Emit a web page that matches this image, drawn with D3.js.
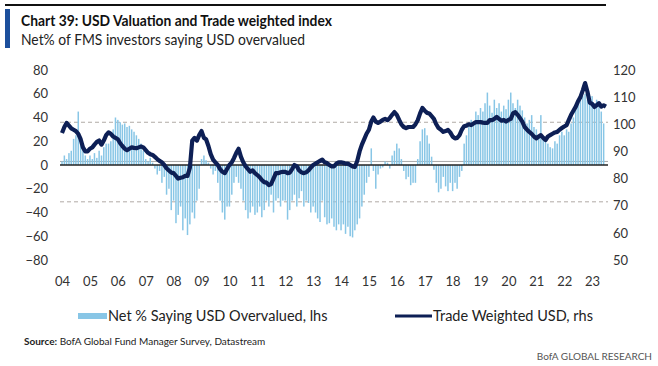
<!DOCTYPE html>
<html><head><meta charset="utf-8">
<script src="https://cdn.jsdelivr.net/npm/d3@7"></script>
<style>
body{margin:0;background:#fff;}
svg{display:block;font-family:Lato,"Open Sans",sans-serif;}
</style></head>
<body><svg id="c" width="658" height="366"></svg>
<script>
const years = ["04","05","06","07","08","09","10","11","12","13","14","15","16","17","18","19","20","21","22","23"];
const leftTicks = [80,60,40,20,0,-20,-40,-60,-80];
const rightTicks = [120,110,100,90,80,70,60,50];

// Net % saying USD overvalued (monthly, Jan 2004 onward), lhs
const netOvervalued = [
  3, 8, 5, 10, 12, 22, 25, 45, 20, 15, 8, 5,          // 2004
  8, 5, 10, 6, 12, 8, 15, 18, 18, 20, 30, 40,         // 2005
  38, 36, 34, 35, 32, 33, 30, 28, 25, 22, 18, 12,     // 2006
  5, 3, 6, 2, -3, -8, -5, -15, -10, -25, -20, -38,    // 2007
  -30, -49, -42, -35, -55, -45, -59, -50, -40, -45, -30, -20, // 2008
  5, 8, 4, 2, -3, -8, -5, -15, -30, -40, -46, -35,    // 2009
  -35, -25, -15, -10, -15, -20, -30, -38, -45, -40, -35, -42, // 2010
  -40, -35, -44, -38, -30, -35, -25, -40, -30, -28, -35, -30, // 2011
  -30, -46, -38, -30, -25, -35, -28, -22, -35, -30, -32, -40, // 2012
  -35, -40, -45, -48, -30, -44, -50, -49, -45, -52, -55, -50, // 2013
  -55, -50, -58, -52, -60, -61, -55, -50, -45, -35, -25, -15, // 2014
  -10, 14, -5, -20, -8, -3, -2, 3, 2, -3, 8, 12,      // 2015
  18, 14, 5, -5, -12, -10, -17, -15, -15, 5, 20, 30,  // 2016
  31, 25, 18, 7, -4, -15, -23, -20, -10, -18, -22, -15, // 2017
  -22, -15, -20, -10, -5, 18, 25, 32, 38, 35, 45, 42, // 2018
  48, 45, 52, 61, 50, 44, 55, 48, 52, 45, 50, 47,     // 2019
  55, 61, 52, 48, 55, 50, 46, 40, 35, 38, 42, 32,     // 2020
  30, 25, 42, 22, 20, 18, 15, 14, 20, 18, 25, 28,     // 2021
  25, 30, 28, 35, 40, 48, 52, 55, 58, 60, 55, 58,     // 2022
  58, 52, 55, 50, 45, 35                              // 2023
];

// Trade weighted USD (monthly, Jan 2004 onward), rhs
const tradeWeighted = [
  96.8, 99, 100.5, 99.5, 98.5, 98, 97.5, 96.5, 94.5, 91.5, 90, 90,        // 2004
  91, 91.5, 92.5, 93.5, 94, 92.5, 94, 96, 97, 96.5, 95.5, 95,             // 2005
  94.5, 93, 92, 91, 90.5, 91, 91.5, 91.3, 91.2, 91.5, 91.8, 91.5,         // 2006
  90.5, 89.5, 89, 88.7, 88, 87.2, 86.5, 86, 85, 83.8, 83, 82.2,           // 2007
  82, 81, 80, 80.3, 80.5, 81, 81, 84, 94, 95, 94, 96,                     // 2008
  97.5, 95, 94.5, 92, 89, 87, 86, 85, 83.5, 82.5, 82, 83.5,               // 2009
  85, 86, 87.5, 89.5, 91, 88, 86, 84.5, 83.5, 82.5, 83, 82,               // 2010
  81.3, 80.5, 79.5, 78.7, 78.5, 77.6, 78, 80, 82, 82, 82.3, 82.5,         // 2011
  82.5, 82, 82.2, 83.5, 85, 84.5, 83, 82.3, 82, 82.3, 83, 84,             // 2012
  85, 85.5, 86, 86.5, 87, 86, 85.7, 85, 84.5, 84.5, 85.5, 86,             // 2013
  86, 85.8, 85.5, 85.5, 85, 84.5, 84.3, 86.5, 90, 92.5, 94.5, 96.5,       // 2014
  98, 101, 102.5, 101, 100.5, 101, 101.6, 102, 101.5, 102.3, 103.5, 104.5,// 2015
  103.5, 101.6, 100, 99, 98.6, 99, 99, 99, 100, 101.5, 104, 106,          // 2016
  105, 104.2, 104, 103, 102, 100, 98.6, 98, 97.2, 97.5, 97.9, 97,         // 2017
  95.5, 94.8, 95, 96, 98, 99.3, 99.5, 100, 99.7, 100.3, 100.8, 100.8,     // 2018
  100.8, 100.6, 100.5, 100.5, 101.5, 101.5, 102, 102.7, 102, 101.3, 101.6, 101, // 2019
  101.6, 102, 104, 104.5, 103.5, 102.3, 101, 99, 98, 97.2, 96.5, 95.5,    // 2020
  94.8, 95.5, 96, 95, 94.2, 95.5, 96, 96.5, 97, 97.2, 98, 98.6,           // 2021
  99.2, 99.7, 101.5, 103.5, 105, 106.5, 108.5, 110, 112.5, 115.2, 112, 108, // 2022
  107.5, 106.4, 107, 107.8, 106.5, 107, 106.5                             // 2023
];

const upperBand = 36, lowerBand = -31, meanLine = 3;

const svg = d3.select("#c");
const monthDate = i => new Date(2004, i, 1);

const x = d3.scaleTime().domain([new Date(2004,0,1), new Date(2023,6,15)]).range([62, 607]);
const yL = d3.scaleLinear().domain([-80, 80]).range([260, 70]);
const yR = d3.scaleLinear().domain([50, 120]).range([260, 70]);

// header
svg.append("line").attr("x1",5).attr("x2",606).attr("y1",5).attr("y2",5).attr("stroke","#111").attr("stroke-width",2);
svg.append("rect").attr("x",5).attr("y",9).attr("width",5).attr("height",39).attr("fill","#1c4f9c");
svg.append("text").attr("x",21).attr("y",26).attr("font-size",15).attr("font-weight",700).attr("fill","#111")
  .attr("textLength",311).attr("lengthAdjust","spacingAndGlyphs")
  .text("Chart 39: USD Valuation  and Trade weighted index");
svg.append("text").attr("x",21).attr("y",45).attr("font-size",15).attr("fill","#222")
  .attr("textLength",284).attr("lengthAdjust","spacingAndGlyphs")
  .text("Net% of FMS investors saying USD overvalued");

const plotL = 60, plotR = 608;
// mean line (thin grey)
svg.append("line").attr("x1",plotL).attr("x2",plotR).attr("y1",yL(meanLine)).attr("y2",yL(meanLine))
  .attr("stroke","#a8a8a8").attr("stroke-width",1);
// dashed bands
[upperBand, lowerBand].forEach(v => {
  svg.append("line").attr("x1",plotL).attr("x2",plotR).attr("y1",yL(v)).attr("y2",yL(v))
    .attr("stroke","#b0aaa5").attr("stroke-width",1).attr("stroke-dasharray","4,3");
});

// bars
svg.append("g").selectAll("rect").data(netOvervalued).join("rect")
  .attr("x", (d,i) => x(monthDate(i)) - 0.75)
  .attr("width", 1.5)
  .attr("y", d => d >= 0 ? yL(d) : yL(0))
  .attr("height", d => Math.abs(yL(d) - yL(0)))
  .attr("fill", "#88c6e6");

// zero line
svg.append("line").attr("x1",plotL).attr("x2",plotR).attr("y1",yL(0)).attr("y2",yL(0))
  .attr("stroke","#222").attr("stroke-width",1.5);

// trade weighted line
const line = d3.line().x((d,i) => x(monthDate(i))).y(d => yR(d)).curve(d3.curveLinear);
svg.append("path").datum(tradeWeighted).attr("d", line)
  .attr("fill","none").attr("stroke","#0d1f55").attr("stroke-width",4.2).attr("stroke-linejoin","round");

// axes
const axL = svg.append("g").attr("transform","translate(48,0)")
  .call(d3.axisLeft(yL).tickValues(leftTicks).tickSize(0).tickPadding(0));
const axR = svg.append("g").attr("transform","translate(613,0)")
  .call(d3.axisRight(yR).tickValues(rightTicks).tickSize(0).tickPadding(0));
const xTickDates = years.map((y,i) => new Date(2004+i,0,1));
const axB = svg.append("g").attr("transform","translate(0,276)")
  .call(d3.axisBottom(x).tickValues(xTickDates).tickFormat((d,i) => years[i]).tickSize(0).tickPadding(0));
[axL, axR, axB].forEach(a => {
  a.select(".domain").remove();
  a.selectAll("text").attr("font-size",13).attr("fill","#333").attr("font-family","Lato, sans-serif");
});
axB.selectAll("text").attr("dy","0.75em");

// legend
const lg = svg.append("g");
lg.append("rect").attr("x",78).attr("y",313).attr("width",29).attr("height",6).attr("fill","#88c6e6");
lg.append("text").attr("x",108).attr("y",321).attr("font-size",14.5).attr("fill","#222")
  .text("Net % Saying USD Overvalued, lhs");
lg.append("line").attr("x1",395).attr("x2",432).attr("y1",316).attr("y2",316).attr("stroke","#0d1f55").attr("stroke-width",3);
lg.append("text").attr("x",433).attr("y",321).attr("font-size",14.5).attr("fill","#222")
  .text("Trade Weighted USD, rhs");

// source
const src = svg.append("text").attr("x",24).attr("y",345).attr("font-size",10).attr("fill","#222");
src.append("tspan").attr("font-weight",700).text("Source:");
src.append("tspan").text("  BofA Global Fund Manager Survey, Datastream");
svg.append("text").attr("x",652).attr("y",360).attr("text-anchor","end").attr("font-size",10).attr("fill","#555")
  .text("BofA GLOBAL RESEARCH");
</script></body></html>
